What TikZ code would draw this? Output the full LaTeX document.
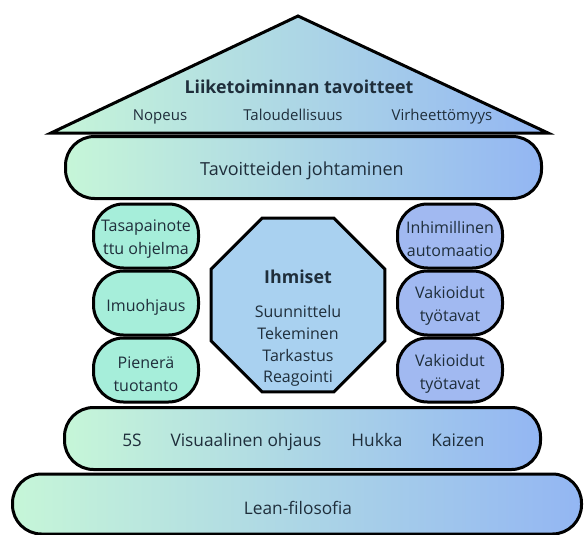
\documentclass[tikz,border=0pt]{standalone}
\usepackage{fontspec}
\setmainfont{Open Sans}
\usepackage{tikz}
\usetikzlibrary{shapes.geometric, positioning}
\definecolor{cMint}{HTML}{C6F6D8}
\definecolor{cSky}{HTML}{93B6F3}
\definecolor{cLeft}{HTML}{A6EEDA}
\definecolor{cRight}{HTML}{A1B9F1}
\definecolor{cPpl}{HTML}{A9D1F0}
\definecolor{cTxt}{HTML}{1F2E3B}

\begin{document}
\begin{tikzpicture}[x=1pt, y=-1pt,
    ln/.style={draw=black, line width=3pt},
    band/.style={ln, rounded corners=29pt, left color=cMint, right color=cSky},
    pillar/.style={ln, rounded corners=30pt, minimum width=105pt, minimum height=64pt},
    pl/.style ={pillar, fill=cLeft},
    pr/.style ={pillar, fill=cRight},
    ptxt/.style={align=center, text=cTxt, inner sep=0pt,
                 font=\fontsize{16}{23}\selectfont},
    octa/.style={ln, regular polygon, regular polygon sides=8, minimum size=188pt,
                 fill=cPpl, inner sep=0pt},
    word/.style={text=cTxt, font=\fontsize{17.3}{20}\selectfont, inner sep=0pt, anchor=base},
    sub/.style={text=cTxt, font=\fontsize{15}{18}\selectfont, inner sep=0pt, anchor=base},
    ttl/.style={text=cTxt, font=\fontsize{17.8}{20}\selectfont\bfseries, inner sep=0pt},
]
\useasboundingbox (0,0) rectangle (584,535);

% === ROOF: Liiketoiminnan tavoitteet ===
\coordinate (apex)  at (298,16);
\coordinate (eaveL) at (51,133);
\coordinate (eaveR) at (548,133);
\draw[ln, line join=miter, left color=cMint, right color=cSky]
    (eaveL) -- (apex) -- (eaveR) -- cycle;

\node[ttl, anchor=base] (goal) at (299,93) {Liiketoiminnan tavoitteet};
\node[sub] (speed) at (160,121) {Nopeus};
\node[sub] (econ)  at (293,121) {Taloudellisuus};
\node[sub] (qual)  at (442,121) {Virheettömyys};

% === BEAM ===
\node[band, minimum width=476pt, minimum height=62pt] (lead) at (303.5,167.5) {};
\node[word, font=\fontsize{18}{20}\selectfont] (leadT) at (302,175) {Tavoitteiden johtaminen};

% === LEFT PILLAR ===
\node[pl] (lvl)  at (146,236) {};
\node[pl] (pull) at (146,303) {};
\node[pl] (lot)  at (146,370) {};
\node[ptxt] at ([yshift=-3pt]lvl.center)  {Tasapainote\\ttu ohjelma};
\node[ptxt] at ([yshift=-4pt]pull.center) {Imuohjaus};
\node[ptxt] at ([yshift=-4pt]lot.center)  {Pienerä\\tuotanto};

% === RIGHT PILLAR ===
\node[pr] (jido) at (450,236) {};
\node[pr] (std1) at (450,303) {};
\node[pr] (std2) at (450,370) {};
\node[ptxt] at ([yshift=-3pt]jido.center) {Inhimillinen\\automaatio};
\node[ptxt] at ([yshift=-3pt]std1.center) {Vakioidut\\työtavat};
\node[ptxt] at ([yshift=-4pt]std2.center) {Vakioidut\\työtavat};

% === CENTRE: Ihmiset ===
\node[octa] (ppl) at (298,305) {};
\node[ttl] (pplT) at ([yshift=28pt]ppl.center) {Ihmiset};
\node[ptxt, font=\fontsize{16}{21.7}\selectfont] (pdca)
    at ([yshift=-41pt]ppl.center) {Suunnittelu\\Tekeminen\\Tarkastus\\Reagointi};

% === FOUNDATION ===
\node[band, minimum width=476pt, minimum height=62pt] (tools) at (302.5,438.5) {};
\node[word] (fives)  at (132,446) {5S};
\node[word] (visual) at (246,446) {Visuaalinen ohjaus};
\node[word] (waste)  at (377,446) {Hukka};
\node[word] (kaizen) at (458,446) {Kaizen};

\node[band, minimum width=569pt, minimum height=60pt] (lean) at (297,504) {};
\node[word] (leanT) at (298,514) {Lean-filosofia};

\end{tikzpicture}
\end{document}
